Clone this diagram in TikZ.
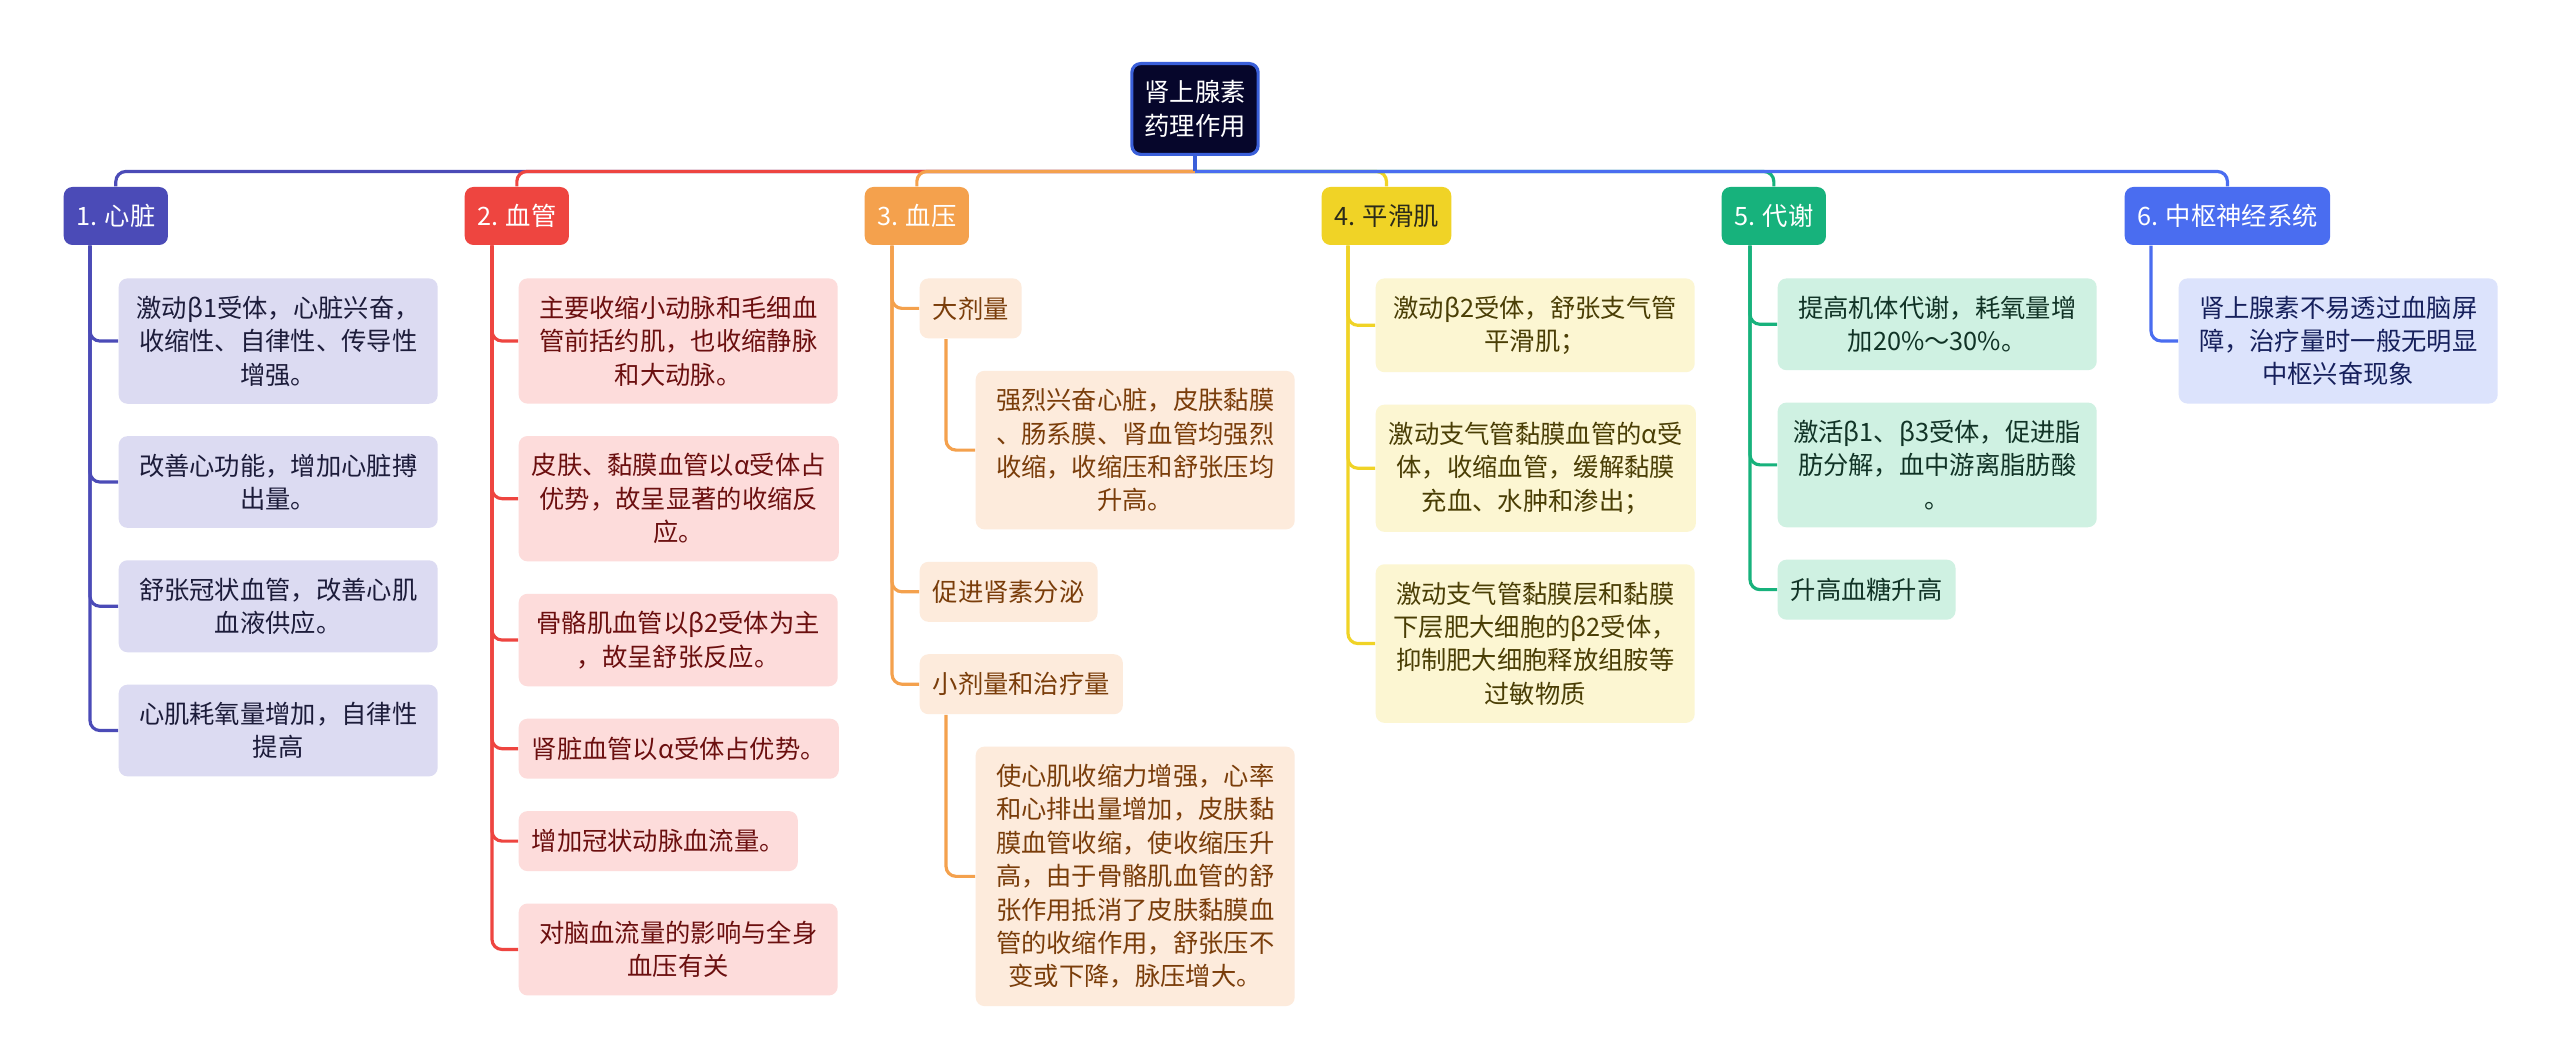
\documentclass[tikz,border=0pt]{standalone}
\usepackage{fontspec}
\setmainfont{Noto Sans CJK SC}
\usepackage{xcolor}
\usepackage{tikz}
\usetikzlibrary{positioning, calc}

\definecolor{rootfill}{HTML}{06062B}
\definecolor{rootline}{HTML}{3A5FD9}
\definecolor{heartcol}{HTML}{4B4BB7}
\definecolor{heartpale}{HTML}{DCDBF2}
\definecolor{heartink}{HTML}{1C1C3A}
\definecolor{vesselcol}{HTML}{EE4540}
\definecolor{vesselpale}{HTML}{FDDCDB}
\definecolor{vesselink}{HTML}{6B0F0F}
\definecolor{pressurecol}{HTML}{F4A14D}
\definecolor{pressurepale}{HTML}{FDEBDC}
\definecolor{pressureink}{HTML}{7A3D0A}
\definecolor{smoothcol}{HTML}{F0D326}
\definecolor{smoothpale}{HTML}{FCF6D2}
\definecolor{smoothink}{HTML}{4A3E05}
\definecolor{smoothtitle}{HTML}{2B2B1A}
\definecolor{metabcol}{HTML}{17B27C}
\definecolor{metabpale}{HTML}{CFF1E2}
\definecolor{metabink}{HTML}{113326}
\definecolor{cnscol}{HTML}{4A6DF0}
\definecolor{cnspale}{HTML}{DCE3FC}
\definecolor{cnsink}{HTML}{16205C}

\begin{document}
\begin{tikzpicture}[
  node distance=0.31cm,
  every node/.style={font=\fontsize{7.2pt}{9.5pt}\selectfont},
  rootbox/.style={rectangle, draw=rootline, line width=0.9pt, fill=rootfill, rounded corners=2.5pt,
              text=white, align=center, inner xsep=0.125cm, inner ysep=0.17cm},
  catbox/.style={rectangle, rounded corners=2.5pt, text=white, align=center,
              inner xsep=0.125cm, minimum height=0.58cm, anchor=west},
  leafbox/.style={rectangle, rounded corners=2.5pt, align=center, minimum width=3.19cm,
              minimum height=0.6cm, inner xsep=0.13cm, inner ysep=0.175cm},
  tagbox/.style={rectangle, rounded corners=2.5pt, align=center, minimum height=0.6cm,
              inner xsep=0.13cm, inner ysep=0.175cm},
  heartleaf/.style={fill=heartpale, text=heartink},
  vesselleaf/.style={fill=vesselpale, text=vesselink},
  pressureleaf/.style={fill=pressurepale, text=pressureink},
  smoothleaf/.style={fill=smoothpale, text=smoothink},
  metableaf/.style={fill=metabpale, text=metabink},
  cnsleaf/.style={fill=cnspale, text=cnsink},
  link/.style={line width=0.9pt, rounded corners=0.1cm}
]
\fill[white] (0,0) rectangle (25.6,-10.63);
\useasboundingbox (0,0) rectangle (25.6,-10.63);

% Root
\node[rootbox] (root) at (11.95,-1.09) {肾上腺素\\药理作用};

% Main branches
\node[catbox, fill=heartcol] (heart) at (0.63,-2.16) {1. 心脏};
\node[catbox, fill=vesselcol] (vessel) at (4.64,-2.16) {2. 血管};
\node[catbox, fill=pressurecol] (pressure) at (8.64,-2.16) {3. 血压};
\node[catbox, fill=smoothcol, text=smoothtitle] (smooth) at (13.21,-2.16) {4. 平滑肌};
\node[catbox, fill=metabcol] (metab) at (17.21,-2.16) {5. 代谢};
\node[catbox, fill=cnscol] (cns) at (21.24,-2.16) {6. 中枢神经系统};

% 1. heart
\node[leafbox, heartleaf, below=0.32cm of heart.south west, anchor=north west, xshift=0.55cm] (heart1) {激动β1受体，心脏兴奋，\\收缩性、自律性、传导性\\增强。};
\node[leafbox, heartleaf, below=of heart1.south west, anchor=north west] (heart2) {改善心功能，增加心脏搏\\出量。};
\node[leafbox, heartleaf, below=of heart2.south west, anchor=north west] (heart3) {舒张冠状血管，改善心肌\\血液供应。};
\node[leafbox, heartleaf, below=of heart3.south west, anchor=north west] (heart4) {心肌耗氧量增加，自律性\\提高};

% 2. vessel
\node[leafbox, vesselleaf, below=0.32cm of vessel.south west, anchor=north west, xshift=0.54cm] (vessel1) {主要收缩小动脉和毛细血\\管前括约肌，也收缩静脉\\和大动脉。};
\node[leafbox, vesselleaf, below=of vessel1.south west, anchor=north west] (vessel2) {皮肤、黏膜血管以α受体占\\优势，故呈显著的收缩反\\应。};
\node[leafbox, vesselleaf, below=of vessel2.south west, anchor=north west] (vessel3) {骨骼肌血管以β2受体为主\\，故呈舒张反应。};
\node[leafbox, vesselleaf, below=of vessel3.south west, anchor=north west] (vessel4) {肾脏血管以α受体占优势。};
\node[tagbox, vesselleaf, below=of vessel4.south west, anchor=north west] (vessel5) {增加冠状动脉血流量。};
\node[leafbox, vesselleaf, below=of vessel5.south west, anchor=north west] (vessel6) {对脑血流量的影响与全身\\血压有关};

% 3. pressure
\node[tagbox, pressureleaf, below=0.32cm of pressure.south west, anchor=north west, xshift=0.55cm] (bigdose) {大剂量};
\node[leafbox, pressureleaf, below=of bigdose.south west, anchor=north west, xshift=0.56cm] (bigdose1) {强烈兴奋心脏，皮肤黏膜\\、肠系膜、肾血管均强烈\\收缩，收缩压和舒张压均\\升高。};
\node[tagbox, pressureleaf, anchor=north west] (renin) at ([yshift=-0.31cm]bigdose.west |- bigdose1.south) {促进肾素分泌};
\node[tagbox, pressureleaf, below=of renin.south west, anchor=north west] (smalldose) {小剂量和治疗量};
\node[leafbox, pressureleaf, below=of smalldose.south west, anchor=north west, xshift=0.56cm] (smalldose1) {使心肌收缩力增强，心率\\和心排出量增加，皮肤黏\\膜血管收缩，使收缩压升\\高，由于骨骼肌血管的舒\\张作用抵消了皮肤黏膜血\\管的收缩作用，舒张压不\\变或下降，脉压增大。};

% 4. smooth muscle
\node[leafbox, smoothleaf, below=0.32cm of smooth.south west, anchor=north west, xshift=0.54cm] (smooth1) {激动β2受体，舒张支气管\\平滑肌；};
\node[leafbox, smoothleaf, below=of smooth1.south west, anchor=north west] (smooth2) {激动支气管黏膜血管的α受\\体，收缩血管，缓解黏膜\\充血、水肿和渗出；};
\node[leafbox, smoothleaf, below=of smooth2.south west, anchor=north west] (smooth3) {激动支气管黏膜层和黏膜\\下层肥大细胞的β2受体，\\抑制肥大细胞释放组胺等\\过敏物质};

% 5. metabolism
\node[leafbox, metableaf, below=0.32cm of metab.south west, anchor=north west, xshift=0.56cm] (metab1) {提高机体代谢，耗氧量增\\加20\%～30\%。};
\node[leafbox, metableaf, below=of metab1.south west, anchor=north west] (metab2) {激活β1、β3受体，促进脂\\肪分解，血中游离脂肪酸\\。};
\node[tagbox, metableaf, below=of metab2.south west, anchor=north west] (metab3) {升高血糖升高};

% 6. CNS
\node[leafbox, cnsleaf, below=0.32cm of cns.south west, anchor=north west, xshift=0.54cm] (cns1) {肾上腺素不易透过血脑屏\\障，治疗量时一般无明显\\中枢兴奋现象};

% Edges
\coordinate (bus) at ([yshift=-0.155cm]root.south);
\draw[link, heartcol] (bus) -| (heart.north);
\draw[link, vesselcol] (bus) -| (vessel.north);
\draw[link, pressurecol] (bus) -| (pressure.north);
\draw[link, smoothcol] (bus) -| (smooth.north);
\draw[link, metabcol] (bus) -| (metab.north);
\draw[link, cnscol] (bus) -| (cns.north);
\draw[link, rootline] (root.south) -- (bus);

\draw[link, heartcol] ([xshift=0.27cm]heart.south west) |- (heart1.west);
\draw[link, heartcol] ([xshift=0.27cm]heart.south west) |- (heart2.west);
\draw[link, heartcol] ([xshift=0.27cm]heart.south west) |- (heart3.west);
\draw[link, heartcol] ([xshift=0.27cm]heart.south west) |- (heart4.west);

\draw[link, vesselcol] ([xshift=0.28cm]vessel.south west) |- (vessel1.west);
\draw[link, vesselcol] ([xshift=0.28cm]vessel.south west) |- (vessel2.west);
\draw[link, vesselcol] ([xshift=0.28cm]vessel.south west) |- (vessel3.west);
\draw[link, vesselcol] ([xshift=0.28cm]vessel.south west) |- (vessel4.west);
\draw[link, vesselcol] ([xshift=0.28cm]vessel.south west) |- (vessel5.west);
\draw[link, vesselcol] ([xshift=0.28cm]vessel.south west) |- (vessel6.west);

\draw[link, pressurecol] ([xshift=0.28cm]pressure.south west) |- (bigdose.west);
\draw[link, pressurecol] ([xshift=0.28cm]pressure.south west) |- (renin.west);
\draw[link, pressurecol] ([xshift=0.28cm]pressure.south west) |- (smalldose.west);
\draw[link, pressurecol] ([xshift=0.27cm]bigdose.south west) |- (bigdose1.west);
\draw[link, pressurecol] ([xshift=0.27cm]smalldose.south west) |- (smalldose1.west);

\draw[link, smoothcol] ([xshift=0.27cm]smooth.south west) |- (smooth1.west);
\draw[link, smoothcol] ([xshift=0.27cm]smooth.south west) |- (smooth2.west);
\draw[link, smoothcol] ([xshift=0.27cm]smooth.south west) |- (smooth3.west);

\draw[link, metabcol] ([xshift=0.29cm]metab.south west) |- (metab1.west);
\draw[link, metabcol] ([xshift=0.29cm]metab.south west) |- (metab2.west);
\draw[link, metabcol] ([xshift=0.29cm]metab.south west) |- (metab3.west);

\draw[link, cnscol] ([xshift=0.27cm]cns.south west) |- (cns1.west);
\end{tikzpicture}
\end{document}
